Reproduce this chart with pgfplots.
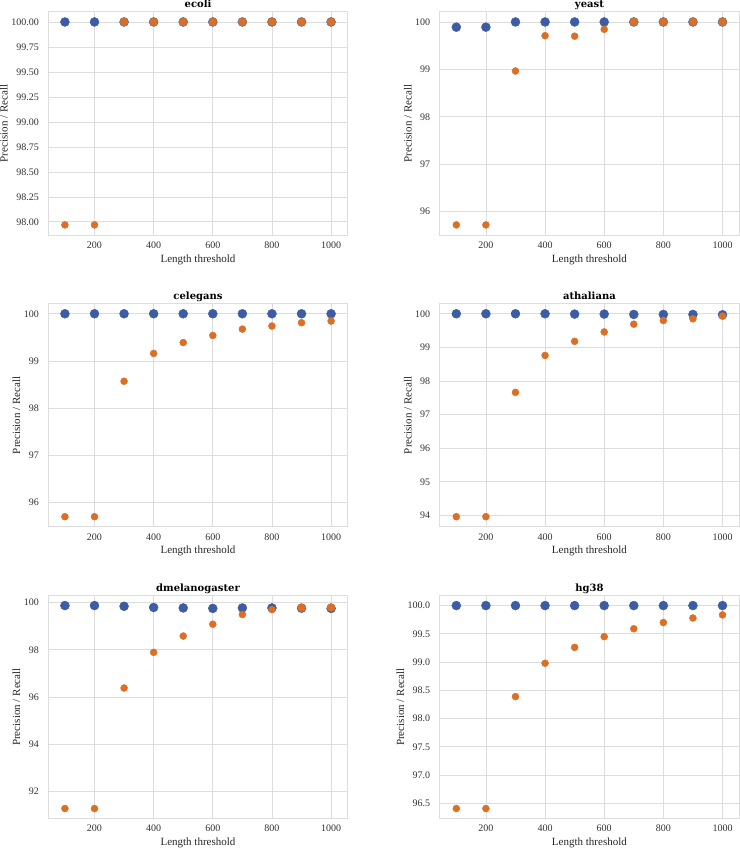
\documentclass[border=0pt]{standalone}
\usepackage{fontspec}
\setmainfont{Liberation Serif}
\newfontfamily\titlefont{DejaVu Serif}
\usepackage{pgfplots}
\pgfplotsset{compat=1.18}
\usepgfplotslibrary{groupplots}

\definecolor{cblue}{HTML}{3C5DA3}
\definecolor{corange}{HTML}{DB6F25}
\definecolor{gridc}{HTML}{DDDDDD}

\pgfplotsset{
  prec/.style={only marks, mark=*, color=cblue, mark size=4.5pt},
  rec/.style={only marks, mark=*, color=corange, mark size=3.5pt},
  recbig/.style={only marks, mark=*, color=corange, mark size=4.0pt},
}

\begin{document}
\begin{tikzpicture}
\begin{groupplot}[
    group style={group size=2 by 3, horizontal sep=92pt, vertical sep=68.5pt},
    scale only axis, width=299pt, height=223pt,
    enlarge x limits={abs=56}, enlarge y limits=0.05,
    xtick={200,400,600,800,1000},
    grid=major, major grid style={gridc, line width=0.8pt},
    axis line style={gridc, line width=0.8pt},
    major tick length=0pt,
    tick label style={font=\fontsize{10}{12}\selectfont, text=black!80},
    xticklabel style={yshift=-3pt},
    yticklabel style={xshift=-6pt},
    label style={font=\fontsize{11}{13}\selectfont, text=black!85},
    title style={font=\titlefont\bfseries\fontsize{10}{12}\selectfont,
      inner sep=0pt, text depth=0pt, yshift=-2pt},
    xlabel={Length threshold}, ylabel={Precision / Recall},
    xlabel style={inner sep=0pt, yshift=-2.5pt},
    ylabel style={inner sep=0pt},
    /pgf/number format/assume math mode=true,
    /pgf/number format/1000 sep={},
  ]
  % ecoli
  \nextgroupplot[title={ecoli}, ytick={98,98.25,...,100.01},
    yticklabel style={/pgf/number format/.cd, fixed, fixed zerofill, precision=2}]
  \addplot[prec] coordinates {(100,100) (200,100) (300,100) (400,100) (500,100) (600,100) (700,100) (800,100) (900,100) (1000,100)};
  \addplot[rec] coordinates {(100,97.97) (200,97.97)};
  \addplot[recbig] coordinates {(300,100) (400,100) (500,100) (600,100) (700,100) (800,100) (900,100) (1000,100)};
  % yeast
  \nextgroupplot[title={yeast}, ytick={96,97,...,100}]
  \addplot[prec] coordinates {(100,99.89) (200,99.89) (300,100) (400,100) (500,100) (600,100) (700,100) (800,100) (900,100) (1000,100)};
  \addplot[rec] coordinates {(100,95.72) (200,95.72) (300,98.965) (400,99.71) (500,99.70) (600,99.845)};
  \addplot[recbig] coordinates {(700,100) (800,100) (900,100) (1000,100)};
  % celegans
  \nextgroupplot[title={celegans}, ytick={96,97,...,100}]
  \addplot[prec] coordinates {(100,100) (200,100) (300,100) (400,100) (500,100) (600,100) (700,100) (800,100) (900,100) (1000,100)};
  \addplot[rec] coordinates {(100,95.70) (200,95.70) (300,98.57) (400,99.16) (500,99.39) (600,99.54) (700,99.675) (800,99.74) (900,99.81) (1000,99.845)};
  % athaliana
  \nextgroupplot[title={athaliana}, ytick={94,95,...,100}]
  \addplot[prec] coordinates {(100,100) (200,100) (300,100) (400,100) (500,99.99) (600,99.99) (700,99.98) (800,99.98) (900,99.98) (1000,99.97)};
  \addplot[rec] coordinates {(100,93.96) (200,93.96) (300,97.66) (400,98.76) (500,99.18) (600,99.46) (700,99.69) (800,99.80) (900,99.85) (1000,99.93)};
  % dmelanogaster
  \nextgroupplot[title={dmelanogaster}, ytick={92,94,...,100}]
  \addplot[prec] coordinates {(100,99.87) (200,99.87) (300,99.84) (400,99.79) (500,99.77) (600,99.75) (700,99.77) (800,99.77) (900,99.76) (1000,99.75)};
  \addplot[rec] coordinates {(100,91.28) (200,91.28) (300,96.38) (400,97.89) (500,98.58) (600,99.08) (700,99.49) (800,99.70)};
  \addplot[recbig] coordinates {(900,99.78) (1000,99.79)};
  % hg38
  \nextgroupplot[title={hg38}, ytick={96.5,97,...,100.01},
    yticklabel style={/pgf/number format/.cd, fixed, fixed zerofill, precision=1}]
  \addplot[prec] coordinates {(100,100) (200,100) (300,100) (400,100) (500,100) (600,100) (700,100) (800,100) (900,100) (1000,100)};
  \addplot[rec] coordinates {(100,96.41) (200,96.41) (300,98.39) (400,98.98) (500,99.26) (600,99.45) (700,99.59) (800,99.70) (900,99.78) (1000,99.835)};
\end{groupplot}
\end{tikzpicture}
\end{document}
